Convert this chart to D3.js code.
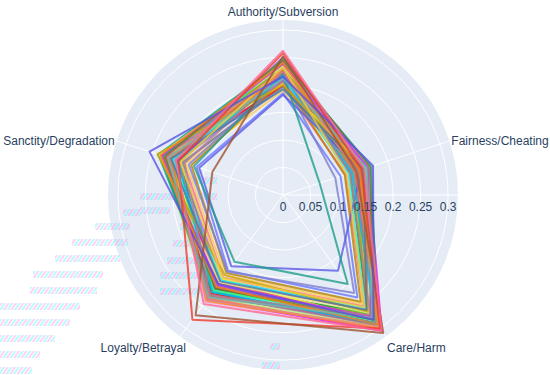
<!DOCTYPE html>
<html>
<head>
<meta charset="utf-8">
<script src="https://cdnjs.cloudflare.com/ajax/libs/d3/7.8.5/d3.min.js"></script>
<style>
    body { margin: 0; background: #fff; }
    text { font-family: "Liberation Sans", Arial, sans-serif; fill: #2a3f5f; font-size: 12px; }
</style>
</head>
<body>
<div class="chart-main"></div>
<script>

//////////
// DATA //
//////////

// axes, clockwise from the top
var categories = ['Authority/Subversion', 'Fairness/Cheating', 'Care/Harm', 'Loyalty/Betrayal', 'Sanctity/Degradation'];

// one value per trace on each axis
var authority = [0.230, 0.215, 0.240, 0.205, 0.225, 0.235, 0.200, 0.220, 0.245, 0.190, 0.228, 0.212,
                 0.238, 0.198, 0.250, 0.208, 0.232, 0.218, 0.185, 0.242, 0.222, 0.202, 0.236, 0.226,
                 0.214, 0.244, 0.196, 0.234, 0.210, 0.228, 0.248, 0.206, 0.182, 0.220, 0.238, 0.216,
                 0.200, 0.230, 0.246, 0.224, 0.192, 0.240, 0.212, 0.232, 0.258, 0.252, 0.215, 0.262];
var fairness  = [0.150, 0.140, 0.160, 0.130, 0.155, 0.145, 0.120, 0.165, 0.150, 0.135, 0.158, 0.142,
                 0.128, 0.148, 0.162, 0.118, 0.152, 0.138, 0.110, 0.168, 0.146, 0.156, 0.134, 0.160,
                 0.125, 0.154, 0.144, 0.165, 0.100, 0.148, 0.158, 0.136, 0.150, 0.070, 0.162, 0.132,
                 0.150, 0.140, 0.166, 0.128, 0.154, 0.146, 0.160, 0.122, 0.150, 0.140, 0.172, 0.155];
var care      = [0.280, 0.270, 0.290, 0.260, 0.275, 0.285, 0.250, 0.295, 0.300, 0.245, 0.268, 0.282,
                 0.262, 0.288, 0.305, 0.240, 0.278, 0.258, 0.230, 0.292, 0.272, 0.284, 0.266, 0.298,
                 0.254, 0.286, 0.276, 0.264, 0.220, 0.302, 0.282, 0.292, 0.170, 0.200, 0.274, 0.288,
                 0.262, 0.296, 0.280, 0.270, 0.258, 0.290, 0.276, 0.252, 0.300, 0.310, 0.280, 0.305];
var loyalty   = [0.210, 0.200, 0.225, 0.190, 0.215, 0.220, 0.185, 0.230, 0.240, 0.180, 0.205, 0.195,
                 0.212, 0.222, 0.235, 0.175, 0.228, 0.198, 0.170, 0.218, 0.208, 0.188, 0.216, 0.238,
                 0.192, 0.226, 0.204, 0.196, 0.172, 0.232, 0.214, 0.224, 0.160, 0.150, 0.202, 0.218,
                 0.180, 0.236, 0.210, 0.226, 0.194, 0.206, 0.230, 0.186, 0.280, 0.270, 0.200, 0.245];
var sanctity  = [0.220, 0.205, 0.230, 0.200, 0.215, 0.225, 0.190, 0.235, 0.210, 0.185, 0.228, 0.212,
                 0.198, 0.218, 0.208, 0.175, 0.232, 0.222, 0.165, 0.238, 0.202, 0.226, 0.214, 0.196,
                 0.210, 0.224, 0.192, 0.236, 0.180, 0.216, 0.206, 0.228, 0.160, 0.170, 0.232, 0.200,
                 0.240, 0.218, 0.226, 0.188, 0.214, 0.234, 0.220, 0.196, 0.200, 0.135, 0.255, 0.205];

var colors = ['#636efa', '#ef553b', '#00cc96', '#ab63fa', '#ffa15a', '#19d3f3', '#ff6692', '#b6e880',
              '#ff97ff', '#fecb52', '#2e91e5', '#e15f99', '#1ca71c', '#fb0d0d', '#da16ff', '#b68100',
              '#479b55', '#eb663b', '#6a76fc', '#00a08b', '#fe00ce', '#f6f926', '#86ce00', '#ff9616',
              '#0df9ff', '#dc587d', '#6e899c', '#e3ee9e', '#7e7dcd', '#fc6955', '#22ffa7', '#bc7196',
              '#5b5be6', '#1f9e89', '#d626ff', '#00b5f7', '#c9a400', '#e48f72', '#6c7c32', '#b2828d',
              '#4c78a8', '#f58518', '#72b7b2', '#eeca3b', '#ef3b2c', '#a0522d', '#5a52e0', '#ff6692'];

var radialTicks = [0, 0.05, 0.1, 0.15, 0.2, 0.25, 0.3];

// faint pink/cyan streaks seen on the left of the picture (decoration only)
var streaks = [
    [209, 123, 140], [223, 95, 130], [239, 72, 128], [255, 55, 120], [271, 33, 103], [287, 30, 97],
    [303, 0, 80], [319, 0, 70], [335, 0, 55], [351, 0, 40], [367, 0, 32],
    [177, 177, 217], [193, 140, 217], [207, 140, 170], [223, 180, 213], [240, 173, 207],
    [257, 167, 207], [272, 160, 207], [288, 160, 207], [343, 270, 280], [362, 262, 280]
];

////////////////
// DIMENSIONS //
////////////////

var w = 550,
    h = 375,
    cx = 283,
    cy = 195,
    radius = 175;

var svg = d3.select('.chart-main')
    .append('svg')
    .attr('width', w)
    .attr('height', h);

////////////
// SCALES //
////////////

var rScale = d3.scaleLinear()
    .domain([0, 0.318])
    .range([0, radius]);

var angle = d3.scaleLinear()
    .domain([0, categories.length])
    .range([0, 2 * Math.PI]);

var traces = authority.map(function(d, i) {
    return {
        color: colors[i],
        values: [authority[i], fairness[i], care[i], loyalty[i], sanctity[i]]
    };
});

////////////////
// BACKGROUND //
////////////////

var defs = svg.append('defs');
var pat = defs.append('pattern')
    .attr('id', 'streak')
    .attr('patternUnits', 'userSpaceOnUse')
    .attr('width', 6)
    .attr('height', 6)
    .attr('patternTransform', 'rotate(35)');
pat.append('rect').attr('width', 2).attr('height', 6).attr('fill', '#ff8ee8');
pat.append('rect').attr('x', 3).attr('width', 2).attr('height', 6).attr('fill', '#4ff4f4');

var g = svg.append('g')
    .attr('transform', 'translate(' + cx + ',' + cy + ')');

g.append('circle')
    .attr('r', radius)
    .attr('fill', '#e5ecf6');

// grid circles
g.selectAll('.grid-circle')
    .data(radialTicks.slice(1))
    .enter()
    .append('circle')
    .attr('class', 'grid-circle')
    .attr('r', function(d) { return rScale(d); })
    .attr('fill', 'none')
    .attr('stroke', '#fff')
    .attr('stroke-width', 1);

// spokes
g.selectAll('.spoke')
    .data(categories)
    .enter()
    .append('line')
    .attr('class', 'spoke')
    .attr('x1', 0)
    .attr('y1', 0)
    .attr('x2', function(d, i) { return radius * Math.sin(angle(i)); })
    .attr('y2', function(d, i) { return -radius * Math.cos(angle(i)); })
    .attr('stroke', '#fff')
    .attr('stroke-width', 1);

// radial axis line (angle 0 = east)
g.append('line')
    .attr('x1', 0)
    .attr('y1', 0)
    .attr('x2', radius)
    .attr('y2', 0)
    .attr('stroke', '#fff')
    .attr('stroke-width', 1);

svg.selectAll('.streak')
    .data(streaks)
    .enter()
    .append('rect')
    .attr('class', 'streak')
    .attr('x', function(d) { return d[1]; })
    .attr('y', function(d) { return d[0]; })
    .attr('width', function(d) { return d[2] - d[1]; })
    .attr('height', 7)
    .attr('fill', 'url(#streak)')
    .attr('opacity', 0.4);

////////////
// TRACES //
////////////

var line = d3.lineRadial()
    .angle(function(d, i) { return angle(i); })
    .radius(function(d) { return rScale(d); })
    .curve(d3.curveLinearClosed);

var gTraces = svg.append('g')
    .attr('transform', 'translate(' + cx + ',' + cy + ')');

gTraces.selectAll('.trace')
    .data(traces)
    .enter()
    .append('path')
    .attr('class', 'trace')
    .attr('d', function(d) { return line(d.values); })
    .attr('fill', 'none')
    .attr('stroke', function(d) { return d.color; })
    .attr('stroke-width', 2)
    .attr('stroke-linejoin', 'round')
    .attr('opacity', 0.8);

////////////
// LABELS //
////////////

var gLabels = svg.append('g')
    .attr('transform', 'translate(' + cx + ',' + cy + ')');

gLabels.selectAll('.tick-label')
    .data(radialTicks)
    .enter()
    .append('text')
    .attr('class', 'tick-label')
    .attr('x', function(d) { return rScale(d); })
    .attr('y', 12)
    .attr('dy', '0.35em')
    .attr('text-anchor', 'middle')
    .text(d3.format('~g'));

gLabels.selectAll('.cat-label')
    .data(categories)
    .enter()
    .append('text')
    .attr('class', 'cat-label')
    .attr('x', function(d, i) {
        var s = Math.sin(angle(i));
        // loyalty label sits a little closer to the circle in the reference
        var nudge = (s < -0.1 && Math.cos(angle(i)) < -0.5) ? 7 : 0;
        return (radius + 2) * s + nudge;
    })
    .attr('y', function(d, i) {
        var c = Math.cos(angle(i));
        var off = c > 0.5 ? -6 : (c < -0.5 ? 10 : 0);
        return -(radius + 2) * c + off;
    })
    .attr('dy', '0.35em')
    .attr('text-anchor', function(d, i) {
        var s = Math.sin(angle(i));
        return s > 0.1 ? 'start' : (s < -0.1 ? 'end' : 'middle');
    })
    .text(function(d) { return d; });

</script>
</body>
</html>
